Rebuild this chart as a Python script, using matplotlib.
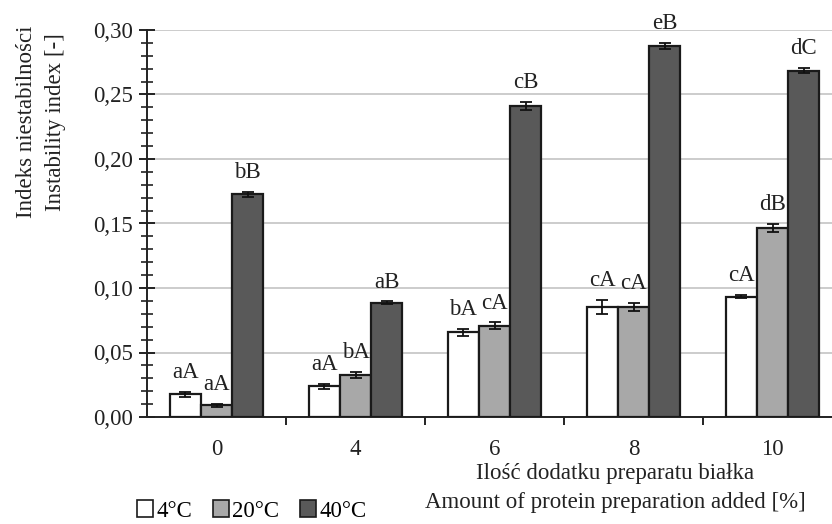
import matplotlib
matplotlib.use("Agg")
import matplotlib.pyplot as plt
import numpy as np
from matplotlib.patches import Patch

plt.rcParams['font.family'] = ['Liberation Serif', 'DejaVu Serif']

categories = ['0', '4', '6', '8', '10']
series_names = ['4°C', '20°C', '40°C']
vals_4 = [0.0176, 0.0238, 0.0656, 0.0855, 0.0933]
vals_20 = [0.0090, 0.0328, 0.0708, 0.0852, 0.1467]
vals_40 = [0.1726, 0.0886, 0.2412, 0.2876, 0.2685]
err_4 = [0.0018, 0.0020, 0.0030, 0.0055, 0.0010]
err_20 = [0.0010, 0.0022, 0.0025, 0.0030, 0.0030]
err_40 = [0.0020, 0.0010, 0.0030, 0.0025, 0.0020]
lab_4 = ['aA', 'aA', 'bA', 'cA', 'cA']
lab_20 = ['aA', 'bA', 'cA', 'cA', 'dB']
lab_40 = ['bB', 'aB', 'cB', 'eB', 'dC']
colors = ['#ffffff', '#a8a8a8', '#595959']
yticks = [0.00, 0.05, 0.10, 0.15, 0.20, 0.25, 0.30]

fig = plt.figure(figsize=(8.32, 5.24), dpi=100)
ax = fig.add_axes([147/832, 107/524, (842-147)/832, (417-30)/524])

x = np.arange(len(categories))
w = 0.225
FS = 16.5
series = [(vals_4, err_4, lab_4), (vals_20, err_20, lab_20), (vals_40, err_40, lab_40)]
for i, (v, e, l) in enumerate(series):
    xs = x + (i - 1) * w
    ax.bar(xs, v, width=w, color=colors[i], edgecolor='#1a1a1a', linewidth=1.6, zorder=3)
    ax.errorbar(xs, v, yerr=e, fmt='none', ecolor='#111111', elinewidth=1.3,
                capsize=4.5, capthick=1.3, zorder=4)
    for xi, vi, ei, li in zip(xs, v, e, l):
        ax.annotate(li, (xi, vi + ei), xytext=(0, 10), textcoords='offset points',
                    ha='center', va='baseline', fontsize=FS, color='#222222',
                    annotation_clip=False)

ax.set_xlim(-0.5, 4.5)
ax.set_ylim(0, 0.30)
ax.set_yticks(yticks)
ax.set_yticklabels([f"{t:.2f}".replace('.', ',') for t in yticks], fontsize=FS)
ax.set_yticks(np.arange(0, 0.301, 0.01), minor=True)
ax.tick_params(axis='y', which='major', direction='inout', length=12, width=1.4, pad=4, colors='#222222')
ax.tick_params(axis='y', which='minor', direction='inout', length=8, width=1.2, colors='#222222')
ax.set_xticks(x)
ax.set_xticklabels(categories, fontsize=FS)
ax.set_xticks(np.arange(0.5, 4.5, 1.0), minor=True)
ax.tick_params(axis='x', which='major', length=0, pad=16, colors='#222222')
ax.tick_params(axis='x', which='minor', direction='out', length=6, width=1.4, colors='#222222')

ax.yaxis.grid(True, color='#c8c8c8', linewidth=1.3, zorder=0)
ax.set_axisbelow(True)
for s in ['top', 'right']:
    ax.spines[s].set_visible(False)
ax.spines['left'].set_linewidth(1.4)
ax.spines['bottom'].set_linewidth(1.4)
ax.spines['left'].set_color('#222222')
ax.spines['bottom'].set_color('#222222')

fig.text(41/832, 1 - 122/524, 'Indeks niestabilności\nInstability index [-]', rotation=90,
         ha='center', va='center', ma='center', fontsize=FS, color='#222222', linespacing=1.55)
fig.text(615/832, 1 - 488/524, 'Ilość dodatku preparatu białka\nAmount of protein preparation added [%]',
         ha='center', va='center', ma='center', fontsize=FS, color='#222222', linespacing=1.5)

handles = [Patch(facecolor=c, edgecolor='#1a1a1a', linewidth=1.2) for c in colors]
fig.legend(handles, series_names, loc='center left', bbox_to_anchor=(137/832, 1 - 511/524),
           ncol=3, frameon=False, fontsize=FS, handlelength=0.7, handleheight=0.7,
           handletextpad=0.15, columnspacing=0.9, borderaxespad=0, borderpad=0)

fig.savefig('out.png', dpi=100)
